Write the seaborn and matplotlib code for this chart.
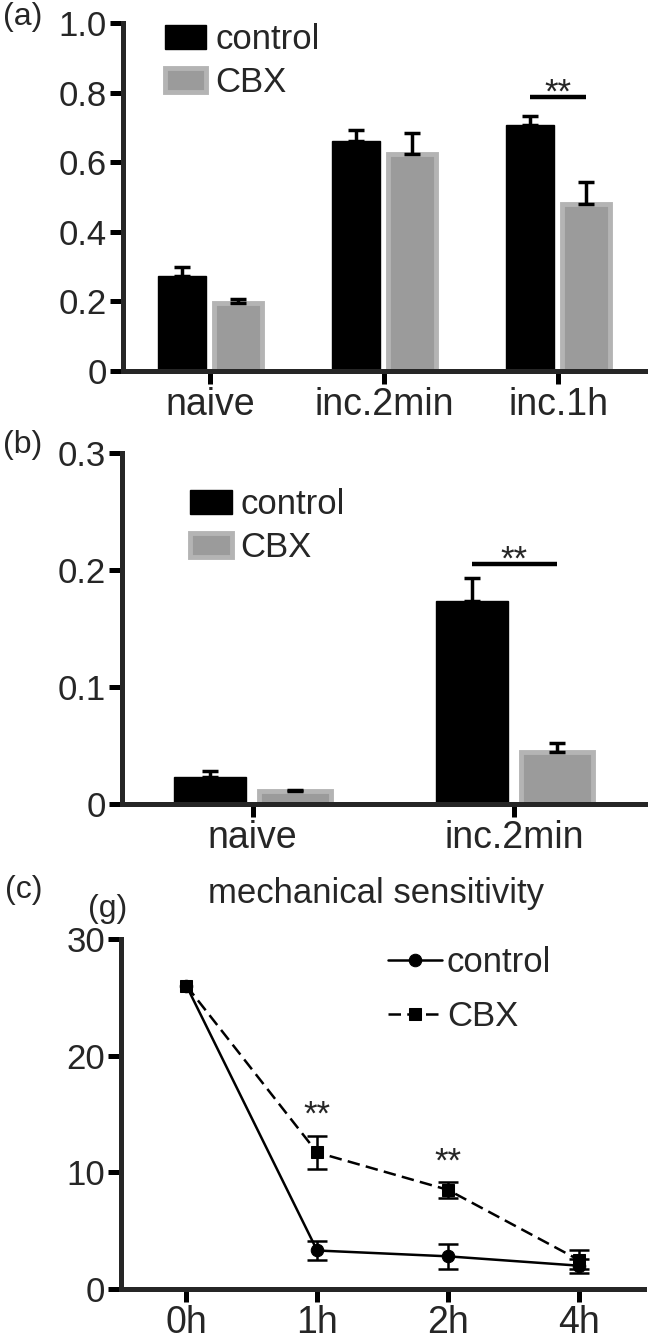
import numpy as np
import pandas as pd
import matplotlib
matplotlib.use("Agg")
import matplotlib.pyplot as plt
import seaborn as sns

# ---- data ----
# (a)
groups_a = ["naive", "inc.2min", "inc.1h"]
control_a = [0.273, 0.660, 0.707]
control_a_err = [0.027, 0.033, 0.027]
cbx_a = [0.195, 0.623, 0.479]
cbx_a_err = [0.013, 0.060, 0.064]

# (b)
groups_b = ["naive", "inc.2min"]
control_b = [0.0228, 0.1738]
control_b_err = [0.0057, 0.0195]
cbx_b = [0.0108, 0.0442]
cbx_b_err = [0.0012, 0.0080]

# (c) mechanical sensitivity (g)
times = ["0h", "1h", "2h", "4h"]
control_c = [26.0, 3.3, 2.8, 2.0]
control_c_err = [0.0, 0.8, 1.05, 0.6]
cbx_c = [26.0, 11.7, 8.5, 2.5]
cbx_c_err = [0.0, 1.4, 0.7, 0.8]

sns.set_style("ticks")
plt.rcParams["font.family"] = ["Liberation Sans", "DejaVu Sans"]

FS = 25
SPINE = 3.6
colors = {"control": "black", "CBX": "#9b9b9b"}

fig = plt.figure(figsize=(6.53, 13.42), dpi=100)
ax_a = fig.add_axes([0.1884, 0.7236, 0.7994, 0.2593])
ax_b = fig.add_axes([0.1868, 0.4009, 0.8010, 0.2616])
ax_c = fig.add_axes([0.1853, 0.0395, 0.8009, 0.2608])


def style_axis(ax):
    sns.despine(ax=ax)
    for s in ["left", "bottom"]:
        ax.spines[s].set_linewidth(SPINE)
    ax.tick_params(width=SPINE, length=9.5, pad=2, color="black")
    ax.tick_params(axis="y", labelsize=FS)
    ax.tick_params(axis="x", labelsize=27)
    ax.set_xlabel("")
    ax.set_ylabel("")


def bar_panel(ax, groups, ctrl, ctrl_err, cbx, cbx_err):
    df = pd.DataFrame({
        "group": groups * 2,
        "treatment": ["control"] * len(groups) + ["CBX"] * len(groups),
        "value": ctrl + cbx,
    })
    sns.barplot(data=df, x="group", y="value", hue="treatment",
                palette=colors, width=0.65, gap=0.15, errorbar=None,
                saturation=1, ax=ax)
    bars = list(ax.containers[:2])
    for p in bars[0].patches:
        p.set_edgecolor("black")
        p.set_linewidth(1)
    for p in bars[1].patches:
        p.set_edgecolor("#b4b4b4")
        p.set_linewidth(3.5)
    for cont, errs in zip(bars, [ctrl_err, cbx_err]):
        xs = [p.get_x() + p.get_width() / 2 for p in cont.patches]
        ys = [p.get_height() for p in cont.patches]
        ax.errorbar(xs, ys, yerr=[np.zeros(len(errs)), errs], fmt="none",
                    ecolor="black", elinewidth=2.5, capsize=6, capthick=2.5,
                    zorder=4)
    ax.set_xlim(-0.5, len(groups) - 0.5)
    style_axis(ax)
    return bars


def sig_bar(ax, bars, idx, y, ystar):
    x1 = bars[0].patches[idx]
    x2 = bars[1].patches[idx]
    xa = x1.get_x() + x1.get_width() / 2
    xb = x2.get_x() + x2.get_width() / 2
    ax.plot([xa, xb], [y, y], color="black", lw=3.2, solid_capstyle="butt")
    ax.text((xa + xb) / 2, ystar, "**", ha="center", va="baseline", fontsize=FS)


# ---- (a) ----
bars_a = bar_panel(ax_a, groups_a, control_a, control_a_err, cbx_a, cbx_a_err)
ax_a.set_ylim(0, 1.0)
ax_a.set_yticks([0, 0.2, 0.4, 0.6, 0.8, 1.0])
ax_a.set_yticklabels(["0", "0.2", "0.4", "0.6", "0.8", "1.0"])
sig_bar(ax_a, bars_a, 2, 0.787, 0.772)
ax_a.legend(bars_a, ["control", "CBX"], loc="upper left",
            bbox_to_anchor=(0.08, 1.0), frameon=False, fontsize=FS,
            handlelength=1.2, handleheight=0.7, handletextpad=0.25,
            borderpad=0, borderaxespad=0, labelspacing=0.3)

# ---- (b) ----
bars_b = bar_panel(ax_b, groups_b, control_b, control_b_err, cbx_b, cbx_b_err)
ax_b.set_ylim(0, 0.3)
ax_b.set_yticks([0, 0.1, 0.2, 0.3])
ax_b.set_yticklabels(["0", "0.1", "0.2", "0.3"])
sig_bar(ax_b, bars_b, 1, 0.205, 0.200)
ax_b.legend(bars_b, ["control", "CBX"], loc="upper left",
            bbox_to_anchor=(0.13, 0.9), frameon=False, fontsize=FS,
            handlelength=1.2, handleheight=0.7, handletextpad=0.25,
            borderpad=0, borderaxespad=0, labelspacing=0.3)

# ---- (c) ----
df_c = pd.DataFrame({
    "pos": list(range(len(times))) * 2,
    "treatment": ["control"] * len(times) + ["CBX"] * len(times),
    "value": control_c + cbx_c,
})
sns.lineplot(data=df_c, x="pos", y="value", hue="treatment", style="treatment",
             palette={"control": "black", "CBX": "black"},
             markers={"control": "o", "CBX": "s"},
             dashes={"control": "", "CBX": (5, 2.5)},
             markersize=9, linewidth=1.8, markeredgecolor="black",
             errorbar=None, ax=ax_c)
line_handles = [ln for ln in ax_c.lines if len(ln.get_xdata()) > 0][:2]
for vals, errs in [(control_c, control_c_err), (cbx_c, cbx_c_err)]:
    idx = [i for i, e in enumerate(errs) if e > 0]
    ax_c.errorbar([i for i in idx], [vals[i] for i in idx],
                  yerr=[errs[i] for i in idx], fmt="none", ecolor="black",
                  elinewidth=1.8, capsize=7, capthick=1.8, zorder=4)
ax_c.set_xlim(-0.5, len(times) - 0.5)
ax_c.set_ylim(0, 30)
ax_c.set_xticks(range(len(times)))
ax_c.set_xticklabels(times)
ax_c.set_yticks([0, 10, 20, 30])
style_axis(ax_c)
ax_c.text(1, 14.1, "**", ha="center", va="baseline", fontsize=FS)
ax_c.text(2, 10.1, "**", ha="center", va="baseline", fontsize=FS)
ax_c.legend(line_handles, ["control", "CBX"], loc="upper left",
            bbox_to_anchor=(0.51, 0.98), frameon=False, fontsize=FS,
            handlelength=1.55, handletextpad=0.15, borderpad=0,
            borderaxespad=0, labelspacing=0.6)

# ---- panel labels / title ----
fig.text(0.005, 1 - 17 / 1342, "(a)", fontsize=23, va="center", ha="left")
fig.text(0.005, 1 - 445 / 1342, "(b)", fontsize=23, va="center", ha="left")
fig.text(0.008, 1 - 890 / 1342, "(c)", fontsize=23, va="center", ha="left")
fig.text(108 / 653, 1 - 909 / 1342, "(g)", fontsize=23, va="center", ha="center")
fig.text(376 / 653, 1 - 893 / 1342, "mechanical sensitivity", fontsize=FS,
         va="center", ha="center")

fig.savefig("out.png", dpi=100)
